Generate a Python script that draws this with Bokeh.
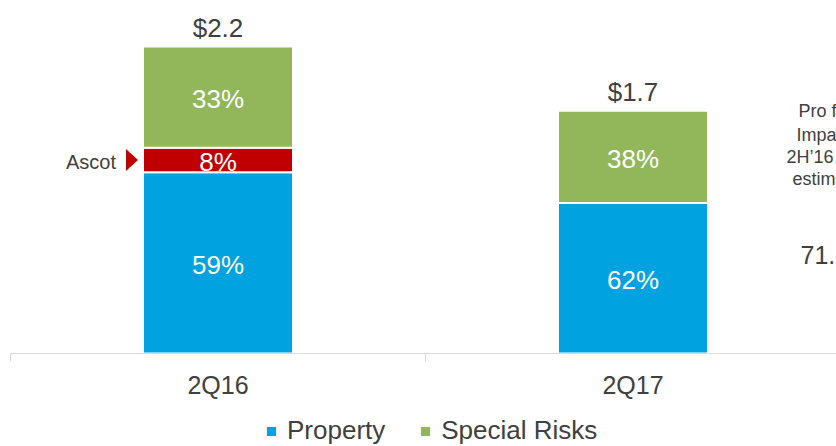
from bokeh.plotting import figure
from bokeh.layouts import column
from bokeh.models import Range1d, FixedTicker, Legend, LegendItem, LinearAxis, ColumnDataSource
from bokeh.embed import file_html
from bokeh.resources import INLINE
from bokeh.core.properties import value

# ---------------- data ----------------
quarters = ["2Q16", "2Q17"]
totals = [2.2, 1.74]               # $bn
property_share = [0.59, 0.62]
ascot_share = [0.08, 0.0]
special_share = [0.33, 0.38]
note_lines = ["Pro f", "Impa", "2H\u201916", "estim"]
note_value = "71."

# ---------------- layout constants ----------------
FONT = "Liberation Sans"
TXT = "#404040"
BLUE = "#00A3E0"
GREEN = "#92B75A"
RED = "#C00000"
AXIS_C = "#D9D9D9"

PAGE_W = 836
PAGE_H = 446
LEFT = 10          # frame left (page px)
BASE = 353         # frame bottom (page px)
TOP = 8
LEG_TOP = 415
PX_PER_CAT = 415.0
FRAME_W = PAGE_W - LEFT
FRAME_H = BASE - TOP
PX_PER_BN = 307 / 2.2
x_end = FRAME_W / PX_PER_CAT
y_end = FRAME_H / PX_PER_BN
bw = 150 / PX_PER_CAT

def px_x(px):      # page px -> data x
    return (px - LEFT) / PX_PER_CAT

def px_y(py):      # page px -> data y
    return (BASE - py) / PX_PER_BN

xs = [0.5 + i for i in range(len(quarters))]
prop_top = [t * s for t, s in zip(totals, property_share)]
ascot_top = [p + t * s for p, t, s in zip(prop_top, totals, ascot_share)]
spec_top = [a + t * s for a, t, s in zip(ascot_top, totals, special_share)]

def pct(s):
    return f"{round(s * 100)}%"

src_prop = ColumnDataSource(dict(x=xs, bottom=[0] * len(xs), top=prop_top,
                                 mid=[p / 2 for p in prop_top],
                                 lab=[pct(s) for s in property_share]))
ia = [i for i, s in enumerate(ascot_share) if s > 0]
src_ascot = ColumnDataSource(dict(x=[xs[i] for i in ia], bottom=[prop_top[i] for i in ia],
                                  top=[ascot_top[i] for i in ia],
                                  mid=[(prop_top[i] + ascot_top[i]) / 2 for i in ia],
                                  lab=[pct(ascot_share[i]) for i in ia]))
src_spec = ColumnDataSource(dict(x=xs, bottom=ascot_top, top=spec_top,
                                 mid=[(a + s) / 2 for a, s in zip(ascot_top, spec_top)],
                                 lab=[pct(s) for s in special_share]))
src_tot = ColumnDataSource(dict(x=xs, y=spec_top, lab=[f"${t:.1f}" for t in totals]))

p = figure(x_range=Range1d(0, x_end), y_range=Range1d(0, y_end),
           frame_width=FRAME_W, frame_height=FRAME_H,
           output_backend="svg", toolbar_location=None,
           x_axis_location=None, y_axis_location=None,
           min_border=0, min_border_left=LEFT, min_border_top=TOP,
           min_border_bottom=LEG_TOP - BASE)
p.grid.visible = False
p.outline_line_color = None
p.background_fill_color = "white"

bar_kw = dict(x="x", bottom="bottom", top="top", width=bw, line_color="white", line_width=2)
r_prop = p.vbar(source=src_prop, fill_color=BLUE, **bar_kw)
r_ascot = p.vbar(source=src_ascot, fill_color=RED, **bar_kw)
r_spec = p.vbar(source=src_spec, fill_color=GREEN, **bar_kw)

for src in (src_prop, src_ascot, src_spec):
    p.text(x="x", y="mid", text="lab", source=src, text_align="center",
           text_baseline="middle", text_color="white", text_font=value(FONT),
           text_font_size="26px", y_offset=2)

p.text(x="x", y="y", text="lab", source=src_tot, text_align="center",
       text_baseline="middle", text_color=TXT, text_font=value(FONT),
       text_font_size="26px", y_offset=-19)

# Ascot callout
if ia:
    i = ia[0]
    left = xs[i] - 148 / PX_PER_CAT / 2
    mid = (prop_top[i] + ascot_top[i]) / 2
    dx = 1 / PX_PER_CAT
    dy = 1 / PX_PER_BN
    p.patch(x=[left - 18 * dx, left - 6 * dx, left - 18 * dx],
            y=[mid + 11 * dy, mid, mid - 11 * dy], fill_color=RED, line_color=None)
    p.text(x=[left - 28 * dx], y=[mid], text=["Ascot"], text_align="right",
           text_baseline="middle", text_color=TXT, text_font=value(FONT),
           text_font_size="20px", y_offset=2)

# cut-off note at right edge (only its visible part)
note_x = [798, 796, 786, 792]
note_y = [110, 134, 156, 178]
p.text(x=[px_x(v) for v in note_x], y=[px_y(v) for v in note_y], text=note_lines,
       text_align="left", text_baseline="middle", text_color=TXT,
       text_font=value(FONT), text_font_size="18px")
p.text(x=[px_x(800)], y=[px_y(254)], text=[note_value], text_align="left",
       text_baseline="middle", text_color=TXT, text_font=value(FONT),
       text_font_size="25px")

xaxis = LinearAxis(ticker=FixedTicker(ticks=xs, minor_ticks=[0, 1, 2, 3]),
                   major_label_overrides={x: q for x, q in zip(xs, quarters)})
xaxis.axis_line_color = AXIS_C
xaxis.axis_line_width = 1
xaxis.major_tick_line_color = None
xaxis.major_tick_out = 8
xaxis.major_tick_in = 0
xaxis.minor_tick_line_color = AXIS_C
xaxis.minor_tick_out = 8
xaxis.minor_tick_in = 0
xaxis.major_label_text_font = FONT
xaxis.major_label_text_font_size = "25px"
xaxis.major_label_text_color = TXT
xaxis.major_label_standoff = 9
p.add_layout(xaxis, "below")

# ---------------- legend strip ----------------
LEG_H = PAGE_H - LEG_TOP
q = figure(width=PAGE_W, height=LEG_H, x_range=Range1d(0, 1), y_range=Range1d(100, 101),
           output_backend="svg", toolbar_location=None,
           x_axis_location=None, y_axis_location=None, min_border=0)
q.grid.visible = False
q.outline_line_color = None
lp = q.vbar(source=src_prop, fill_color=BLUE, **bar_kw)
ls = q.vbar(source=src_spec, fill_color=GREEN, **bar_kw)
legend = Legend(items=[LegendItem(label="Property", renderers=[lp]),
                       LegendItem(label="Special Risks", renderers=[ls])],
                orientation="horizontal", location=(254, 0),
                border_line_color=None, background_fill_alpha=0,
                padding=0, margin=0, spacing=33, label_standoff=9,
                glyph_width=14, glyph_height=14,
                label_text_font=FONT, label_text_font_size="26px",
                label_text_color=TXT)
q.add_layout(legend, "center")

open("out.html", "w").write(file_html(column(p, q, spacing=0), INLINE))
